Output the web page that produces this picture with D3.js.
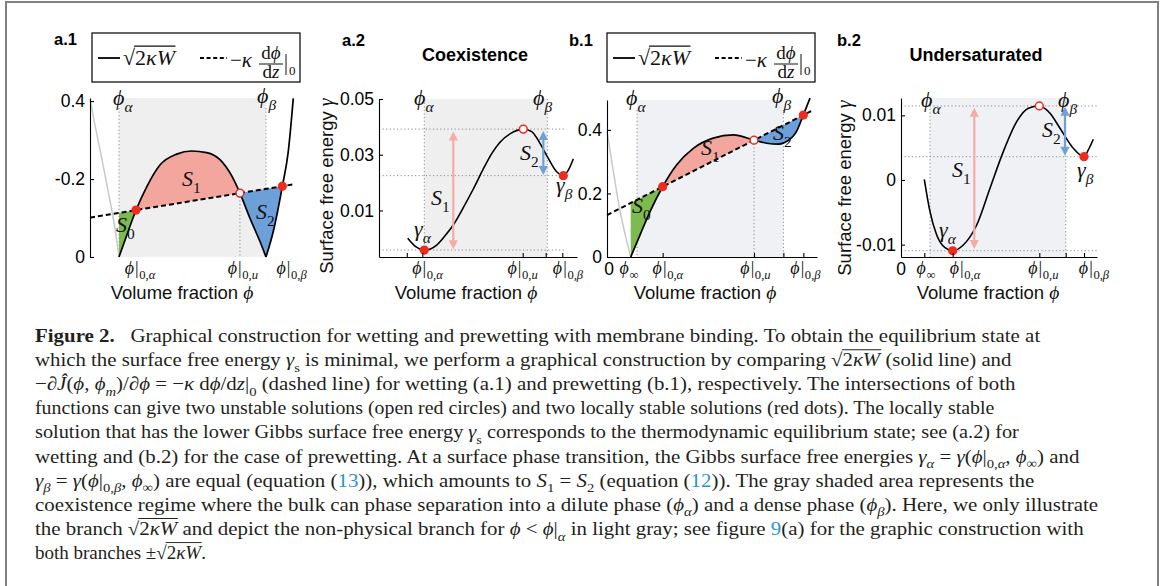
<!DOCTYPE html>
<html><head><meta charset="utf-8">
<script src="https://cdn.jsdelivr.net/npm/d3@7/dist/d3.min.js"></script>
<style>html,body{margin:0;padding:0;background:#fff}svg{display:block}text{white-space:pre}</style>
</head><body>
<script>
/* ===================== DATA ===================== */
// a.1  wetting: sqrt(2κW) (gray = non-physical branch) and boundary line -κ dφ/dz|0
const a1GrayBranch = [[0,0.405],[0.024,0.338],[0.056,0.253],[0.087,0.167],[0.119,0.073],[0.138,0]];
const a1BranchMid = [[0.138,0],[0.175,0.056],[0.219,0.120],[0.27,0.18],[0.333,0.236],[0.413,0.264],[0.484,0.272],[0.556,0.268],[0.619,0.25],[0.675,0.208],[0.714,0.164],[0.762,0.099],[0.81,0.039],[0.838,0]];
const a1BranchRight = [[0.838,0],[0.873,0.066],[0.916,0.182],[0.944,0.27],[0.968,0.407]];
const a1Boundary = [[0,0.101],[0.976,0.187]];
const a1Phi = {zero:0.138, alpha:0.138, a0:0.219, u0:0.714, beta:0.838, b0:0.916};
const a1YTicks = [0,0.2,0.4];
const a1YTickLabels = ["0","-0.2","0.4"];
const a1XLabelAt = [0.238,0.728,0.96];
const a1XLabelSubs = ["α","u","β"];

// a.2  coexistence: surface free energy γ(φ|0)
const a2Energy = [[0.1435,0.0000],[0.185,-0.0031],[0.2265,-0.0042],[0.2885,-0.0024],[0.33,0.0009],[0.3715,0.0048],[0.4215,0.0110],[0.4715,0.0177],[0.5215,0.0249],[0.5635,0.0304],[0.605,0.0345],[0.655,0.0375],[0.7215,0.0392],[0.7635,0.0383],[0.805,0.0341],[0.8465,0.0287],[0.8885,0.0239],[0.9215,0.0225],[0.9465,0.0245],[0.9715,0.0285]];
const a2Phi = {alpha:0.2265, a0:0.2265, u0:0.7215, beta:0.8415, b0:0.9215};
const a2Gamma = {alpha:-0.0042, u:0.0392, beta:0.0225};
const a2S1 = {phi:0.3715, lo:-0.0039, hi:0.0383};
const a2S2 = {phi:0.8215, lo:0.0227, hi:0.0385};
const a2YTicks = [0.01,0.03,0.05];
const a2YTickLabels = ["0.01","0.03","0.05"];
const a2XTicks = [0.139,0.2165,0.7185,0.8335,0.9165];
const a2XLabelAt = [0.2425,0.718,0.945];
const a2XLabelSubs = ["α","u","β"];

// b.1  prewetting: construction
const b1GrayBranch = [[0,0.395],[0.03,0.27],[0.062,0.145],[0.094,0.05],[0.113,0]];
const b1Branch = [[0.113,0],[0.157,0.069],[0.205,0.143],[0.265,0.221],[0.332,0.29],[0.411,0.342],[0.506,0.374],[0.601,0.384],[0.7,0.368],[0.76,0.358],[0.818,0.355],[0.862,0.366],[0.9,0.392],[0.935,0.447],[0.967,0.5]];
const b1Boundary = [[0,0.132],[0.975,0.460]];
const b1Phi = {zero:0.113, alpha:0.143, a0:0.265, u0:0.7, beta:0.84, b0:0.935};
const b1YTicks = [0,0.2,0.4];
const b1YTickLabels = ["0","0.2","0.4"];
const b1XTicks = [0.265,0.7,0.84,0.935];
const b1XLabelAt = [0.01,0.105,0.29,0.707,0.945];
const b1XLabels = ["0","inf","α","u","β"];

// b.2  undersaturated: surface free energy
const b2Energy = [[0.1165,0.0001],[0.145,-0.0049],[0.1785,-0.0085],[0.22,-0.01047],[0.2585,-0.01094],[0.3115,-0.01005],[0.3785,-0.00696],[0.445,-0.00128],[0.5115,0.00438],[0.5785,0.00902],[0.6365,0.01109],[0.6915,0.01145],[0.745,0.01032],[0.795,0.0080],[0.8615,0.0049],[0.915,0.0036],[0.9365,0.00464],[0.9615,0.0063]];
const b2Phi = {alpha:0.145, a0:0.2585, u0:0.6915, beta:0.8235, b0:0.915};
const b2Gamma = {alpha:-0.01094, u:0.01145, beta:0.0036};
const b2S1 = {phi:0.3665, lo:-0.01067, hi:0.01118};
const b2S2 = {phi:0.82, lo:0.00376, hi:0.01134};
const b2YTicks = [-0.01,0,0.01];
const b2YTickLabels = ["-0.01","0","0.01"];
const b2XTicks = [0.1165,0.2585,0.6915,0.8235,0.915];
const b2XLabelAt = [0,0.125,0.32,0.712,0.965];
const b2XLabels = ["0","inf","α","u","β"];

/* ===================== TEXT HELPERS ===================== */
const SANS = "'Liberation Sans', Arial, Helvetica, sans-serif";
const SERIF = "'Liberation Serif', 'DejaVu Serif', 'Times New Roman', serif";
const RED = "#ee2b1f", PINK = "#f2a69e", GREEN = "#7dba4f", BLUE = "#6d9fd9";
const PINK_AR = "#f4aca6", BLUE_AR = "#6fa1d7", INK = "#231f20";
const N = t => ({t}), I = t => ({t, it:1}), S = t => ({t, sub:1}), SI = t => ({t, sub:1, it:1}),
      B = t => ({t, b:1}), L = t => ({t, link:1}), O = t => ({t, ov:1}), OI = t => ({t, ov:1, it:1}),
      SR = t => ({t, ser:1, it:1});
const TICK_FS = 17.5, TITLE_FS = 18.5, MATH_FS = 22, XLAB_FS = 18;

function mt(text, parts, size, subShift) {
  let shift = 0;
  const ss = subShift == null ? 0.3 : subShift;
  for (const p of parts) {
    const ts = text.append("tspan").text(p.t).attr("font-size", p.sub ? size*0.7 : size);
    if (p.it) ts.attr("font-style","italic");
    if (p.b) ts.attr("font-weight","bold");
    if (p.link) ts.attr("fill","#2794d3");
    if (p.ov) ts.attr("class","ov");
    if (p.ser) ts.attr("font-family", SERIF);
    if (p.dx) ts.attr("dx", p.dx);
    const want = p.sub ? size*ss : 0;
    if (want !== shift) { ts.attr("dy", want - shift); shift = want; }
  }
  return text;
}
function overline(text, container, size, color) {
  const spans = text.selectAll("tspan.ov").nodes();
  if (!spans.length) return;
  const f = spans[0], l = spans[spans.length-1];
  const x0 = f.getStartPositionOfChar(0).x, y0 = f.getStartPositionOfChar(0).y;
  const x1 = l.getEndPositionOfChar(l.getNumberOfChars()-1).x;
  container.append("line").attr("x1",x0-1).attr("x2",x1+0.5).attr("y1",y0-size*0.86).attr("y2",y0-size*0.86)
    .attr("stroke",color).attr("stroke-width",Math.max(0.9,size*0.05));
}
function mlabel(g, x, y, parts, size, anchor, subShift) {
  const t = g.append("text").attr("x",x).attr("y",y).attr("font-family",SERIF).attr("fill","#111")
    .attr("text-anchor",anchor||"start");
  mt(t, parts, size, subShift);
  return t;
}
const phiSub = s => s==="inf" ? [I("ϕ"), {t:"∞", sub:1, dx:0.8}]
  : [I("ϕ"), {t:"|", dx:1}, {t:"0,", sub:1, dx:0.6}, {t:s, sub:1, it:1}];

/* ===================== SVG ===================== */
const svg = d3.select("body").append("svg").attr("width",1165).attr("height",586);
svg.append("rect").attr("width",1165).attr("height",586).attr("fill","#fff");
svg.append("path").attr("d","M6,600V2H1158V600").attr("fill","none").attr("stroke","#7f7f7f").attr("stroke-width",2);

function dotted(g, x1, y1, x2, y2) {
  g.append("line").attr("x1",x1).attr("y1",y1).attr("x2",x2).attr("y2",y2)
   .attr("stroke","#8c8c8c").attr("stroke-width",1).attr("stroke-dasharray","1.2,2.4");
}
function yAxis(g, x, y, ticks, labels) {
  const ax = d3.axisLeft(y).tickValues(ticks).tickFormat((d,i)=>labels[i]).tickSizeInner(-4).tickSizeOuter(0).tickPadding(5);
  const a = g.append("g").attr("transform",`translate(${x.range()[0]},0)`).call(ax);
  a.selectAll("text").attr("font-family",SANS).attr("font-size",TICK_FS).attr("fill","#000");
  a.selectAll("path,line").attr("stroke","#000").attr("stroke-width",1.1);
}
function xAxis(g, x, y, ticks, end) {
  const ax = d3.axisBottom(x.copy().range([x(0), x(end)]).domain([0,end])).tickValues(ticks).tickFormat("").tickSizeInner(-4).tickSizeOuter(0);
  const a = g.append("g").attr("transform",`translate(0,${y.range()[0]})`).call(ax);
  a.selectAll("path,line").attr("stroke","#000").attr("stroke-width",1.1);
}
const XLAB_Y = 274;
function xTickLabel(g, x, lab) {
  return mlabel(g, x, XLAB_Y, phiSub(lab), XLAB_FS, "middle", 0.26);
}
function xLabels(g, x, at, labels) {
  at.forEach((p,i) => {
    const lab = labels[i];
    if (lab === "0") g.append("text").attr("x",x(p)).attr("y",XLAB_Y+1).attr("text-anchor","middle")
        .attr("font-family",SANS).attr("font-size",TICK_FS).text("0");
    else xTickLabel(g, x(p), lab);
  });
}
function xTitle(g, cx) {
  const t = g.append("text").attr("x",cx).attr("y",299).attr("text-anchor","middle")
    .attr("font-family",SANS).attr("font-size",TITLE_FS).attr("fill","#111");
  mt(t, [N("Volume fraction "), SR("ϕ")], TITLE_FS);
  t.select("tspan:last-child").attr("font-size",19.5);
}
function yTitle(g, x, y) {
  const t = g.append("text").attr("transform",`translate(${x},${y}) rotate(-90)`).attr("text-anchor","middle")
    .attr("font-family",SANS).attr("font-size",TITLE_FS).attr("fill","#111");
  mt(t, [N("Surface free energy "), SR("γ")], TITLE_FS);
  t.select("tspan:last-child").attr("font-size",20);
}
function legend(x0) {
  const g = svg.append("g").attr("transform",`translate(${x0},33)`);
  g.append("rect").attr("width",208).attr("height",49).attr("fill","#fff").attr("stroke","#000").attr("stroke-width",1.2);
  g.append("line").attr("x1",6).attr("x2",28).attr("y1",25).attr("y2",25).attr("stroke","#000").attr("stroke-width",1.8);
  const t = mlabel(g, 31, 32, [N("√"), O("2"), OI("κW")], 22);
  overline(t, g, 22, "#111");
  g.append("line").attr("x1",108).attr("x2",135).attr("y1",25).attr("y2",25).attr("stroke","#000").attr("stroke-width",1.8).attr("stroke-dasharray","4,2.6");
  mlabel(g, 138, 34, [N("−"), I("κ")], 21);
  mlabel(g, 179, 26, [N("d"), I("ϕ")], 19, "middle");
  g.append("line").attr("x1",167).attr("x2",191).attr("y1",31).attr("y2",31).attr("stroke","#111").attr("stroke-width",1);
  mlabel(g, 179, 45, [N("d"), I("z")], 19, "middle");
  g.append("line").attr("x1",194).attr("x2",194).attr("y1",21).attr("y2",42).attr("stroke","#111").attr("stroke-width",1);
  mlabel(g, 197, 42, [N("0")], 13);
}
function panelTag(x, y, s) {
  svg.append("text").attr("x",x).attr("y",y).attr("font-family",SANS).attr("font-weight","bold").attr("font-size",16.5).text(s);
}
function title(cx, s) {
  svg.append("text").attr("x",cx).attr("y",61).attr("text-anchor","middle").attr("font-family",SANS)
    .attr("font-weight","bold").attr("font-size",18).text(s);
}

/* ---------- construction panel (a.1, b.1) ---------- */
function construction(o) {
  const {x, y} = o;
  const g = svg.append("g");
  const [bot, top] = y.domain();
  const line = d3.line().x(d=>x(d[0])).y(d=>y(d[1])).curve(d3.curveMonotoneX);
  const bc = d3.scaleLinear().domain([o.boundary[0][0], o.boundary[1][0]]).range([o.boundary[0][1], o.boundary[1][1]]);
  g.append("rect").attr("x",x(o.phi.alpha)).attr("y",y(top)).attr("width",x(o.phi.beta)-x(o.phi.alpha))
    .attr("height",y(bot)-y(top)).attr("fill",o.shade);
  dotted(g, x(o.phi.alpha), y(top)+10, x(o.phi.alpha), y(0));
  dotted(g, x(o.phi.beta), y(top)+10, x(o.phi.beta), y(0));
  dotted(g, x(o.phi.u0), y(bc(o.phi.u0)), x(o.phi.u0), y(0));
  const sub = (a,b) => o.branches.map(br => br.filter(d => d[0] >= a-1e-9 && d[0] <= b+1e-9)).filter(s => s.length > 1);
  const region = (a, b) => sub(a,b).map((s,i)=> i ? line(s).replace(/^M/,"L") : line(s)).join("")
      + `L${x(b)},${y(bc(b))}L${x(a)},${y(bc(a))}Z`;
  g.append("path").attr("d",region(o.phi.zero,o.phi.a0)).attr("fill",GREEN);
  g.append("path").attr("d",region(o.phi.a0,o.phi.u0)).attr("fill",PINK);
  g.append("path").attr("d",region(o.phi.u0,o.phi.b0)).attr("fill",BLUE);
  g.append("path").attr("d",line(o.gray)).attr("fill","none").attr("stroke","#c9c9c9").attr("stroke-width",1.5);
  o.branches.forEach(br => g.append("path").attr("d",line(br)).attr("fill","none").attr("stroke","#000").attr("stroke-width",1.7));
  g.append("path").attr("d",d3.line().x(d=>x(d[0])).y(d=>y(d[1]))(o.boundary)).attr("fill","none")
    .attr("stroke","#000").attr("stroke-width",2).attr("stroke-dasharray","5,3");
  [o.phi.a0, o.phi.b0].forEach(p => g.append("circle").attr("cx",x(p)).attr("cy",y(bc(p))).attr("r",4.6).attr("fill",RED));
  g.append("circle").attr("cx",x(o.phi.u0)).attr("cy",y(bc(o.phi.u0))).attr("r",3.9).attr("fill","#fff").attr("stroke",RED).attr("stroke-width",1.5);
  yAxis(g, x, y, o.yTicks, o.yTickLabels);
  return g;
}

/* ---------- energy panel (a.2, b.2) ---------- */
function arrow(g, X, Ytop, Ybot, color) {
  const hl = 9, hw = 4.6;
  g.append("line").attr("x1",X).attr("x2",X).attr("y1",Ytop+hl-1).attr("y2",Ybot-hl+1).attr("stroke",color).attr("stroke-width",2.2);
  g.append("path").attr("d",`M${X},${Ytop}L${X-hw},${Ytop+hl}L${X+hw},${Ytop+hl}Z`).attr("fill",color);
  g.append("path").attr("d",`M${X},${Ybot}L${X-hw},${Ybot-hl}L${X+hw},${Ybot-hl}Z`).attr("fill",color);
}
function energy(o) {
  const {x, y} = o;
  const g = svg.append("g");
  const [bot, top] = y.domain();
  const line = d3.line().x(d=>x(d[0])).y(d=>y(d[1])).curve(d3.curveMonotoneX);
  g.append("rect").attr("x",x(o.phi.alpha)).attr("y",y(top)).attr("width",x(o.phi.beta)-x(o.phi.alpha))
    .attr("height",y(bot)-y(top)).attr("fill",o.shade);
  [o.gamma.u, o.gamma.beta, o.gamma.alpha].forEach(v => dotted(g, x(0), y(v), x(o.hEnd), y(v)));
  dotted(g, x(o.phi.alpha), y(top), x(o.phi.alpha), y(bot));
  dotted(g, x(o.phi.beta), y(top), x(o.phi.beta), y(bot));
  g.append("path").attr("d",line(o.curve)).attr("fill","none").attr("stroke","#000").attr("stroke-width",1.6);
  arrow(g, x(o.s1.phi), y(o.s1.hi), y(o.s1.lo), PINK_AR);
  arrow(g, x(o.s2.phi), y(o.s2.hi), y(o.s2.lo), BLUE_AR);
  g.append("circle").attr("cx",x(o.phi.a0)).attr("cy",y(o.gamma.alpha)).attr("r",4.6).attr("fill",RED);
  g.append("circle").attr("cx",x(o.phi.b0)).attr("cy",y(o.gamma.beta)).attr("r",4.6).attr("fill",RED);
  g.append("circle").attr("cx",x(o.phi.u0)).attr("cy",y(o.gamma.u)).attr("r",3.9).attr("fill","#fff").attr("stroke",RED).attr("stroke-width",1.5);
  yAxis(g, x, y, o.yTicks, o.yTickLabels);
  xAxis(g, x, y, o.xTicks, o.xEnd);
  return g;
}

/* ===================== PANELS ===================== */
// a.1
const a1x = d3.scaleLinear([0,1],[90,300]), a1y = d3.scaleLinear([0,0.408],[257,98]);
panelTag(54, 45, "a.1");
legend(92);
const gA1 = construction({x:a1x, y:a1y, gray:a1GrayBranch, branches:[a1BranchMid,a1BranchRight], boundary:a1Boundary,
  phi:a1Phi, shade:"#efefef", yTicks:a1YTicks, yTickLabels:a1YTickLabels});
mlabel(gA1, 113, 105, [I("ϕ"), SI("α")], MATH_FS);
mlabel(gA1, 257, 103, [I("ϕ"), SI("β")], MATH_FS);
mlabel(gA1, 116, 232, [I("S"), S("0")], MATH_FS);
mlabel(gA1, 182, 186, [I("S"), S("1")], MATH_FS);
mlabel(gA1, 256, 219, [I("S"), S("2")], MATH_FS);
a1XLabelAt.forEach((p,i) => xTickLabel(gA1, a1x(p), a1XLabelSubs[i]));
xTitle(gA1, 182);

// a.2
const a2x = d3.scaleLinear([0,1],[379,579]), a2y = d3.scaleLinear([-0.0067,0.05],[257,99]);
panelTag(342, 46, "a.2");
title(475, "Coexistence");
const gA2 = energy({x:a2x, y:a2y, curve:a2Energy, phi:a2Phi, gamma:a2Gamma, s1:a2S1, s2:a2S2, shade:"#efefef",
  hEnd:0.93, xEnd:0.99, yTicks:a2YTicks, yTickLabels:a2YTickLabels, xTicks:a2XTicks});
mlabel(gA2, 414, 105, [I("ϕ"), SI("α")], MATH_FS);
mlabel(gA2, 533, 105, [I("ϕ"), SI("β")], MATH_FS);
mlabel(gA2, 431, 205, [I("S"), S("1")], MATH_FS);
mlabel(gA2, 520, 160, [I("S"), S("2")], MATH_FS);
mlabel(gA2, 414, 236, [I("γ"), SI("α")], MATH_FS);
mlabel(gA2, 556, 192, [I("γ"), SI("β")], MATH_FS);
a2XLabelAt.forEach((p,i) => xTickLabel(gA2, a2x(p), a2XLabelSubs[i]));
xTitle(gA2, 466);
yTitle(gA2, 333, 186);

// b.1
const b1x = d3.scaleLinear([0,1],[607,817]), b1y = d3.scaleLinear([0,0.494],[257,100]);
panelTag(569, 46, "b.1");
legend(607);
const gB1 = construction({x:b1x, y:b1y, gray:b1GrayBranch, branches:[b1Branch], boundary:b1Boundary,
  phi:b1Phi, shade:"#f0f1f4", yTicks:b1YTicks, yTickLabels:b1YTickLabels});
xAxis(gB1, b1x, b1y, b1XTicks, 1);
mlabel(gB1, 626, 105, [I("ϕ"), SI("α")], MATH_FS);
mlabel(gB1, 772, 103, [I("ϕ"), SI("β")], MATH_FS);
mlabel(gB1, 632, 213, [I("S"), S("0")], MATH_FS);
mlabel(gB1, 701, 155, [I("S"), S("1")], MATH_FS);
mlabel(gB1, 773, 140, [I("S"), S("2")], MATH_FS);
xLabels(gB1, b1x, b1XLabelAt, b1XLabels);
xTitle(gB1, 705);

// b.2
const b2x = d3.scaleLinear([0,1],[901,1101]), b2y = d3.scaleLinear([-0.01191,0.01268],[257,98]);
panelTag(837, 46, "b.2");
title(976, "Undersaturated");
const gB2 = energy({x:b2x, y:b2y, curve:b2Energy, phi:b2Phi, gamma:b2Gamma, s1:b2S1, s2:b2S2, shade:"#f0f1f4",
  hEnd:0.98, xEnd:0.98, yTicks:b2YTicks, yTickLabels:b2YTickLabels, xTicks:b2XTicks});
mlabel(gB2, 921, 107, [I("ϕ"), SI("α")], MATH_FS);
mlabel(gB2, 1058, 107, [I("ϕ"), SI("β")], MATH_FS);
mlabel(gB2, 952, 177, [I("S"), S("1")], MATH_FS);
mlabel(gB2, 1042, 137, [I("S"), S("2")], MATH_FS);
mlabel(gB2, 939, 237, [I("γ"), SI("α")], MATH_FS);
mlabel(gB2, 1077, 177, [I("γ"), SI("β")], MATH_FS);
xLabels(gB2, b2x, b2XLabelAt, b2XLabels);
xTitle(gB2, 988);
yTitle(gB2, 851, 188);

/* ===================== CAPTION ===================== */
const captionLines = [
 [B("Figure 2."), N("   Graphical construction for wetting and prewetting with membrane binding. To obtain the equilibrium state at")],
 [N("which the surface free energy "), I("γ"), S("s"), N(" is minimal, we perform a graphical construction by comparing "), N("√"), O("2"), OI("κW"), N(" (solid line) and")],
 [N("−∂"), I("Ĵ"), N("("), I("ϕ"), N(", "), I("ϕ"), SI("m"), N(")/∂"), I("ϕ"), N(" = −"), I("κ"), N(" d"), I("ϕ"), N("/d"), I("z"), N("|"), S("0"), N(" (dashed line) for wetting (a.1) and prewetting (b.1), respectively. The intersections of both")],
 [N("functions can give two unstable solutions (open red circles) and two locally stable solutions (red dots). The locally stable")],
 [N("solution that has the lower Gibbs surface free energy "), I("γ"), S("s"), N(" corresponds to the thermodynamic equilibrium state; see (a.2) for")],
 [N("wetting and (b.2) for the case of prewetting. At a surface phase transition, the Gibbs surface free energies "), I("γ"), SI("α"), N(" = "), I("γ"), N("("), I("ϕ"), N("|"), S("0,"), SI("α"), N(", "), I("ϕ"), S("∞"), N(") and")],
 [I("γ"), SI("β"), N(" = "), I("γ"), N("("), I("ϕ"), N("|"), S("0,"), SI("β"), N(", "), I("ϕ"), S("∞"), N(") are equal (equation ("), L("13"), N(")), which amounts to "), I("S"), S("1"), N(" = "), I("S"), S("2"), N(" (equation ("), L("12"), N(")). The gray shaded area represents the")],
 [N("coexistence regime where the bulk can phase separation into a dilute phase ("), I("ϕ"), SI("α"), N(") and a dense phase ("), I("ϕ"), SI("β"), N("). Here, we only illustrate")],
 [N("the branch "), N("√"), O("2"), OI("κW"), N(" and depict the non-physical branch for "), I("ϕ"), N(" < "), I("ϕ"), N("|"), SI("α"), N(" in light gray; see figure "), L("9"), N("(a) for the graphic construction with")],
 [N("both branches ±"), N("√"), O("2"), OI("κW"), N(".")]
];
const captionRight = [1050,1012,1050,995,1020,1135,1106,1133,1127,null];
const CAP_X = 35, CAP_Y = 342, CAP_DY = 24.1, CAP_FS = 19;
captionLines.forEach((parts, i) => {
  const g = svg.append("g");
  const t = g.append("text").attr("x",0).attr("y",0).attr("font-family",SERIF).attr("fill",INK);
  mt(t, parts, CAP_FS);
  overline(t, g, CAP_FS, INK);
  let s = 1;
  if (captionRight[i]) {
    const w = t.node().getComputedTextLength();
    s = Math.max(0.9, Math.min(1.1, (captionRight[i]-CAP_X)/w));
  }
  g.attr("transform",`translate(${CAP_X},${CAP_Y + i*CAP_DY}) scale(${s},1)`);
});
</script>
</body></html>
